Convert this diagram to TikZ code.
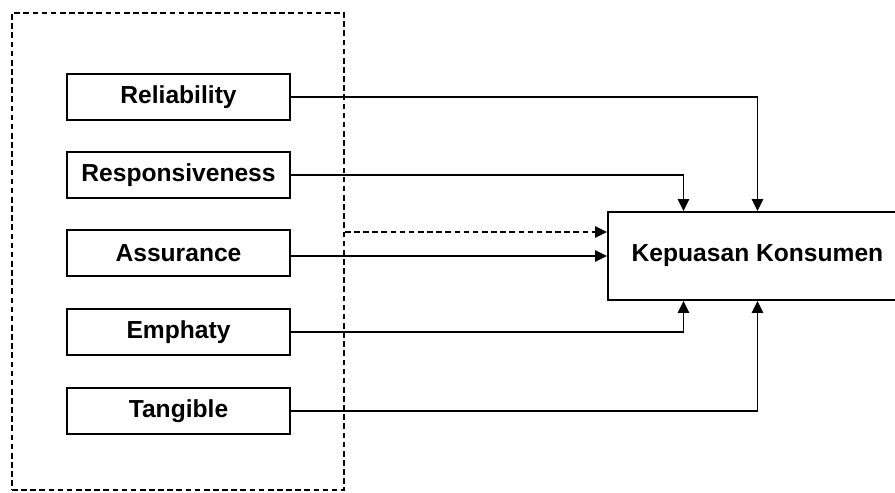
\documentclass[tikz,border=0pt]{standalone}
\usepackage{fontspec}
\setmainfont{Liberation Sans}
\usepackage{tikz}
\usetikzlibrary{arrows.meta}

\tikzset{
  dimbox/.style={draw,line width=1.3pt,minimum width=5.575cm,minimum height=1.15cm,inner sep=0pt,font=\bfseries\fontsize{17.5}{20}\selectfont},
  hasil/.style={draw,line width=1.3pt,minimum width=7.475cm,minimum height=2.2cm,inner sep=0pt,font=\bfseries\fontsize{17.5}{20}\selectfont},
  grup/.style={draw,line width=1.2pt,dash pattern=on 4pt off 2.5pt,minimum width=8.3cm,minimum height=11.925cm,inner sep=0pt},
  panah/.style={->,line width=1.2pt}
}

\begin{document}
\begin{tikzpicture}[line cap=butt,line join=miter,>={Triangle[length=8.5pt,width=8pt]},x=0.025cm,y=-0.025cm]
\clip (0,0) rectangle (895,493);
\useasboundingbox (0,0) rectangle (895,493);
% kotak dimensi
\node[grup] (grp) at (178,251.5) {};
\node[dimbox] (rel) at (178.5,97) {Reliability};
\node[dimbox] (res) at (178.5,175) {Responsiveness};
\node[dimbox] (asu) at (178.5,253) {Assurance};
\node[dimbox] (emp) at (178.5,332) {Emphaty};
\node[dimbox] (tan) at (178.5,411) {Tangible};
% variabel terikat
\node[hasil] (kep) at (757.5,256) {Kepuasan Konsumen};
\coordinate (dtip) at ([yshift=0.6cm]kep.west);
% garis
\draw[panah] (rel.east) -| (kep.north);
\draw[panah] (res.east) -| ([xshift=-1.85cm]kep.north);
\draw[panah] (asu.east |- kep.west) -- (kep.west);
\draw[panah,dash pattern=on 4pt off 2.5pt] (dtip -| grp.east) -- (dtip);
\draw[panah] (emp.east) -| ([xshift=-1.85cm]kep.south);
\draw[panah] (tan.east) -| (kep.south);
\end{tikzpicture}
\end{document}
